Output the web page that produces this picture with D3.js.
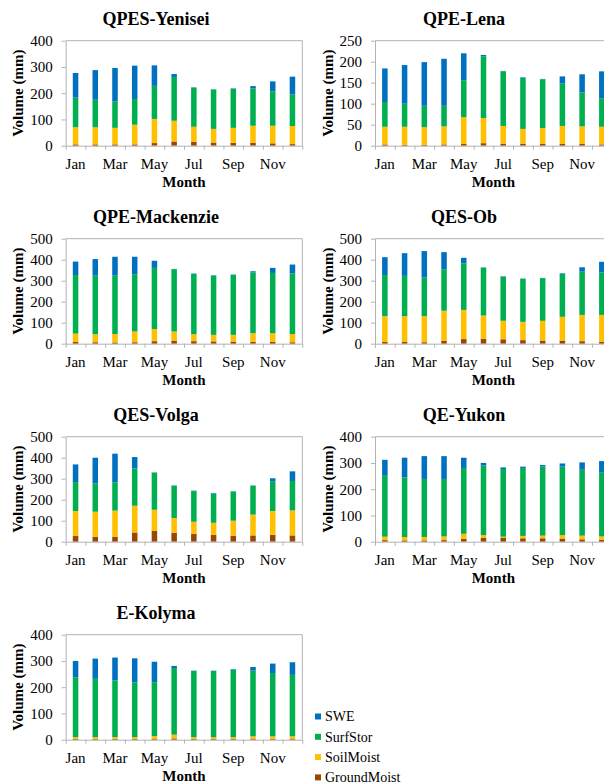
<!DOCTYPE html>
<html>
<head>
<meta charset="utf-8">
<script src="https://cdn.jsdelivr.net/npm/d3@7"></script>
<style>
  html, body { margin: 0; padding: 0; background: #fff; }
  svg { display: block; font-family: "Liberation Serif", "Times New Roman", serif; }
</style>
</head>
<body>
<svg id="chart" width="604" height="784"></svg>
<script>
// Monthly water storage components (mm) for seven northern basins.
const months = ["Jan","Feb","Mar","Apr","May","Jun","Jul","Aug","Sep","Oct","Nov","Dec"];
const basins = ["QPES-Yenisei","QPE-Lena","QPE-Mackenzie","QES-Ob","QES-Volga","QE-Yukon","E-Kolyma"];
const yMax   = [400, 250, 500, 500, 500, 400, 400];
const yStep  = [100, 50, 100, 100, 100, 100, 100];

const seriesNames  = ["GroundMoist","SoilMoist","SurfStor","SWE"];
const seriesColors = ["#974706","#FFC000","#00B050","#0070C0"];

// One row per basin, in the order of `basins`.
const GroundMoist = [
  [5,5,5,5,10,16,15,12,11,11,9,6],
  [3,2,2,3,4,6,5,5,5,4,4,3],
  [8,7,6,7,12,13,12,11,10,9,8,7],
  [8,8,7,13,22,24,21,17,15,15,12,9],
  [27,24,24,44,51,43,37,32,29,30,33,30],
  [6,5,5,6,11,14,14,13,13,12,9,7],
  [3,3,3,3,4,5,4,4,4,4,3,3]
];
const SoilMoist = [
  [65,65,63,75,92,79,57,52,57,65,67,69],
  [42,43,42,43,64,60,42,35,37,43,42,42],
  [40,38,40,51,58,45,33,31,32,41,42,39],
  [123,123,124,144,139,110,88,87,94,113,125,128],
  [119,119,124,127,101,70,58,58,71,99,113,119],
  [13,13,13,14,19,11,5,9,10,13,14,13],
  [7,7,7,7,10,14,6,6,6,9,10,10]
];
const SurfStor = [
  [113,105,100,98,126,167,148,150,148,142,131,120],
  [59,55,51,49,88,147,130,122,116,101,81,68],
  [279,279,278,273,291,297,287,282,285,289,287,288],
  [196,192,185,198,222,227,210,204,203,204,206,202],
  [138,135,135,178,177,154,146,140,138,138,140,140],
  [232,227,221,219,251,265,258,259,263,261,251,243],
  [228,222,216,208,205,254,252,252,257,250,241,234]
];
const SWE = [
  [94,113,128,127,78,11,2,1,2,9,38,68],
  [80,92,104,112,64,3,1,1,1,17,43,64],
  [64,79,90,83,34,1,2,2,2,6,24,43],
  [85,108,125,81,26,2,2,2,1,3,21,51],
  [84,122,136,54,1,1,2,2,2,1,16,46],
  [61,75,87,87,39,10,6,5,6,12,28,44],
  [62,77,87,92,78,8,1,1,2,14,36,48]
];
const seriesData = [GroundMoist, SoilMoist, SurfStor, SWE];

const svg = d3.select("#chart");
const axisGray = "#b3b3b3";

// Panel geometry: two columns, four rows.
const colLeft   = [65.7, 375];
const colRight  = [302.3, 611.7];
const titleX    = [156, 464];
const rowTop0   = 40.7, rowGap = 198, plotH = 105;

basins.forEach((name, bi) => {
  const col = bi % 2, row = Math.floor(bi / 2);
  const left = colLeft[col], right = colRight[col];
  const top = rowTop0 + row * rowGap, bottom = top + plotH;

  const rows = months.map((m, i) => {
    const r = { month: m };
    seriesNames.forEach((s, si) => { r[s] = seriesData[si][bi][i]; });
    return r;
  });
  const stacked = d3.stack().keys(seriesNames)(rows);

  const x = d3.scaleBand().domain(months).range([left, right])
    .paddingInner(0.72).paddingOuter(0.36);
  const y = d3.scaleLinear().domain([0, yMax[bi]]).range([bottom, top]);
  const xEdge = d3.scaleLinear().domain([0, 12]).range([left, right]);

  const g = svg.append("g");

  // plot frame (top and right edges)
  g.append("path")
    .attr("d", `M${left},${top}H${right}V${bottom}`)
    .attr("fill", "none").attr("stroke", axisGray).attr("stroke-width", 1);

  // stacked bars
  g.selectAll("g.layer").data(stacked).join("g")
    .attr("class", "layer")
    .attr("fill", (d, i) => seriesColors[i])
    .selectAll("rect").data(d => d).join("rect")
    .attr("x", d => x(d.data.month))
    .attr("width", x.bandwidth())
    .attr("y", d => y(d[1]))
    .attr("height", d => Math.max(0, y(d[0]) - y(d[1])));

  // x axis: tick marks at category boundaries
  const xTicks = g.append("g").attr("transform", `translate(0,${bottom})`)
    .call(d3.axisBottom(xEdge).tickValues(d3.range(13)).tickFormat("").tickSize(4).tickSizeOuter(0));
  xTicks.selectAll("path, line").attr("stroke", axisGray);

  // x axis labels, every other month
  const xLab = g.append("g").attr("transform", `translate(0,${bottom})`)
    .call(d3.axisBottom(x).tickSize(0).tickPadding(13)
      .tickFormat((d, i) => (i % 2 === 0 ? d : "")));
  xLab.select(".domain").remove();
  xLab.selectAll("text").attr("font-size", 15).attr("fill", "#000")
    .attr("font-family", "Liberation Serif, Times New Roman, serif");

  // y axis
  const yAx = g.append("g").attr("transform", `translate(${left},0)`)
    .call(d3.axisLeft(y).tickValues(d3.range(0, yMax[bi] + 1, yStep[bi]))
      .tickSize(4).tickSizeOuter(0).tickPadding(9));
  yAx.selectAll("path, line").attr("stroke", axisGray);
  yAx.selectAll("text").attr("font-size", 15).attr("fill", "#000")
    .attr("font-family", "Liberation Serif, Times New Roman, serif");

  // title
  g.append("text").attr("x", titleX[col]).attr("y", top - 15.7)
    .attr("text-anchor", "middle").attr("font-size", 18).attr("font-weight", "bold")
    .text(name);

  // axis titles
  g.append("text").attr("x", (left + right) / 2).attr("y", bottom + 41)
    .attr("text-anchor", "middle").attr("font-size", 15).attr("font-weight", "bold")
    .text("Month");
  g.append("text")
    .attr("transform", `translate(${left - 47.7},${(top + bottom) / 2}) rotate(-90)`)
    .attr("dy", "0.35em")
    .attr("text-anchor", "middle").attr("font-size", 15).attr("font-weight", "bold")
    .text("Volume (mm)");
});

// legend, top entry first
const legendOrder = [3, 2, 1, 0];
const legend = svg.append("g");
legendOrder.forEach((si, k) => {
  const cy = 716.5 + k * 20.3;
  legend.append("rect").attr("x", 315).attr("y", cy - 3).attr("width", 6).attr("height", 6)
    .attr("fill", seriesColors[si]);
  legend.append("text").attr("x", 325).attr("y", cy + 4.8)
    .attr("font-size", 14).text(seriesNames[si]);
});
</script>
</body>
</html>
